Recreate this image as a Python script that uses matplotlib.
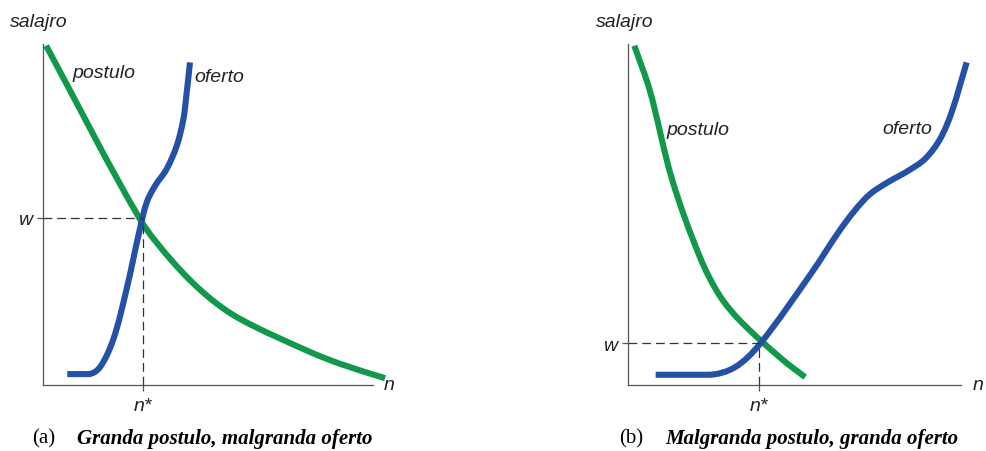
import matplotlib
matplotlib.use('Agg')
import matplotlib.pyplot as plt
import numpy as np
from matplotlib.path import Path
from matplotlib.patches import PathPatch

# (a) granda postulo, malgranda oferto
postulo_a_n = [1.1, 29.5, 39.6, 49.8, 59.8, 80.1, 90.2, 103.8]
postulo_a_w = [99.5, 48.7, 36.0, 26.2, 19.4, 10.1, 6.2, 2.0]
oferto_a_n = [7.5, 13.9, 17.4, 21.5, 25.5, 29.5, 31.6, 34.1, 37.6, 40.7, 42.7, 43.7, 44.7]
oferto_a_w = [3.2, 3.2, 5.2, 13.5, 28.2, 45.7, 53.6, 58.4, 63.3, 70.2, 78.0, 85.8, 94.6]
ekvilibro_a = (30.4, 49.0)

# (b) malgranda postulo, granda oferto
postulo_b_n = [1.9, 6.6, 13.2, 21.6, 27.6, 34.1, 46.2, 53.2]
postulo_b_w = [99.5, 86.2, 60.4, 37.5, 26.1, 18.4, 7.6, 2.3]
oferto_b_n = [8.3, 24.1, 32.1, 39.6, 55.2, 63.2, 68.2, 72.7, 78.1, 84.1, 89.2, 93.7, 97.2, 101.7]
oferto_b_w = [3.0, 3.0, 5.2, 12.0, 33.0, 44.8, 51.3, 56.0, 59.5, 62.8, 66.3, 72.1, 80.0, 94.6]
ekvilibro_b = (39.4, 12.3)

GREEN = '#12984a'
BLUE = '#2451a5'
TXT = '#222222'


def glata_kurbo(ax, x, y, color):
    # kubaj Bezier-pecoj tra la punktoj, tangentoj laŭ kordolongo
    P = np.column_stack([x, y]).astype(float)
    n = len(P)
    t = np.concatenate([[0], np.cumsum(np.hypot(*np.diff(P, axis=0).T))])
    T = np.zeros_like(P)
    T[0] = (P[1] - P[0]) / (t[1] - t[0])
    T[-1] = (P[-1] - P[-2]) / (t[-1] - t[-2])
    for i in range(1, n - 1):
        T[i] = (P[i + 1] - P[i - 1]) / (t[i + 1] - t[i - 1])
        # sen superpaŝo ĉe ebenaj partoj
        for k in range(2):
            if (P[i, k] - P[i - 1, k]) * (P[i + 1, k] - P[i, k]) <= 0:
                T[i, k] = 0
    verts = [P[0]]
    codes = [Path.MOVETO]
    for i in range(n - 1):
        h = (t[i + 1] - t[i]) / 3
        verts += [P[i] + T[i] * h, P[i + 1] - T[i + 1] * h, P[i + 1]]
        codes += [Path.CURVE4] * 3
    ax.add_patch(PathPatch(Path(verts, codes), fill=False, edgecolor=color,
                           lw=4.4, capstyle='butt', joinstyle='round', clip_on=False))


def panelo(ax, pn, pw, on, ow, ekv, lab_p, lab_o):
    ax.set_xlim(0, 100)
    ax.set_ylim(0, 100)
    for s in ['top', 'right']:
        ax.spines[s].set_visible(False)
    for s in ['left', 'bottom']:
        ax.spines[s].set_color('#555555')
        ax.spines[s].set_linewidth(0.9)

    n0, w0 = ekv
    ax.plot([0, n0], [w0, w0], color='#333333', lw=0.9, ls=(0, (7, 4)))
    ax.plot([n0, n0], [0, w0], color='#333333', lw=0.9, ls=(0, (7, 4)))

    glata_kurbo(ax, pn, pw, GREEN)
    glata_kurbo(ax, on, ow, BLUE)

    ax.set_xticks([n0], ['n*'])
    ax.set_yticks([w0], ['w'])
    ax.tick_params(axis='both', length=4, width=0.9, color='#555555',
                   labelsize=14, labelcolor=TXT)
    ax.tick_params(axis='x', pad=5)
    for t in ax.get_xticklabels() + ax.get_yticklabels():
        t.set_fontstyle('italic')
        t.set_family('Liberation Sans')

    f = dict(family='Liberation Sans', style='italic', fontsize=14, color=TXT)
    ax.text(-0.01, 1.067, 'salajro', transform=ax.transAxes, ha='center', va='center', **f)
    ax.text(1.05, 0.0, 'n', transform=ax.transAxes, ha='center', va='center', **f)
    ax.text(lab_p[0], lab_p[1], 'postulo', ha='left', va='center', **f)
    ax.text(lab_o[0], lab_o[1], 'oferto', ha='left', va='center', **f)


fig = plt.figure(figsize=(9.86, 4.52), dpi=100)
ax1 = fig.add_axes([42.5 / 986, 66 / 452, 330 / 986, 341 / 452])
ax2 = fig.add_axes([628 / 986, 66 / 452, 333 / 986, 341 / 452])

panelo(ax1, postulo_a_n, postulo_a_w, oferto_a_n, oferto_a_w, ekvilibro_a,
       (9.2, 91.5), (46.0, 90.6))
panelo(ax2, postulo_b_n, postulo_b_w, oferto_b_n, oferto_b_w, ekvilibro_b,
       (11.5, 75.0), (76.5, 75.3))

serif = dict(family='Liberation Serif', fontsize=15, color='black', va='center')
fig.text(32 / 986, 1 - 439 / 452, '(a)', **serif)
fig.text(77 / 986, 1 - 439 / 452, 'Granda postulo, malgranda oferto',
         weight='bold', style='italic', **serif)
fig.text(619 / 986, 1 - 439 / 452, '(b)', **serif)
fig.text(665 / 986, 1 - 439 / 452, 'Malgranda postulo, granda oferto',
         weight='bold', style='italic', **serif)

fig.savefig('out.png', dpi=100)
